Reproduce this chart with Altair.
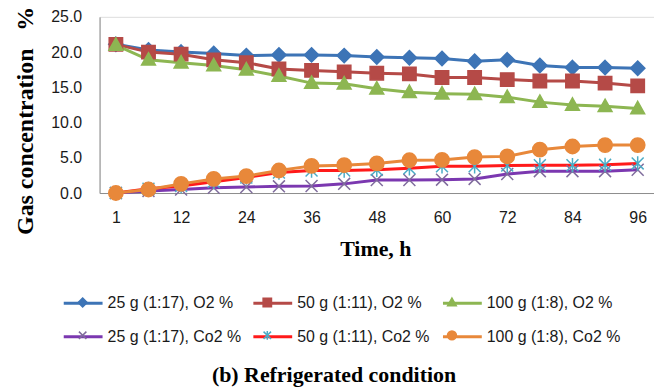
import altair as alt
import pandas as pd

times = [1, 6, 12, 18, 24, 30, 36, 42, 48, 54, 60, 66, 72, 78, 84, 90, 96]
x_tick_labels = [1, 12, 24, 36, 48, 60, 72, 84, 96]
y_ticks = [0, 5, 10, 15, 20, 25]

series_names = [
    "25 g (1:17), O2 %",
    "50 g (1:11), O2 %",
    "100 g (1:8), O2 %",
    "25 g (1:17), Co2 %",
    "50 g (1:11), Co2 %",
    "100 g (1:8), Co2 %",
]

o2_25 = [21.1, 20.3, 20.0, 19.8, 19.5, 19.6, 19.6, 19.5, 19.3, 19.2, 19.1, 18.7, 18.9, 18.1, 17.8, 17.8, 17.7]
o2_50 = [21.1, 20.0, 19.7, 18.9, 18.5, 17.6, 17.4, 17.2, 17.0, 16.9, 16.4, 16.4, 16.1, 15.9, 15.9, 15.6, 15.2]
o2_100 = [21.0, 18.9, 18.5, 18.1, 17.5, 16.6, 15.6, 15.5, 14.8, 14.3, 14.1, 14.0, 13.6, 12.9, 12.5, 12.3, 12.0]
co2_25 = [0.0, 0.3, 0.5, 0.75, 0.85, 0.95, 1.0, 1.3, 1.85, 1.85, 1.9, 2.0, 2.7, 3.1, 3.1, 3.1, 3.3]
co2_50 = [0.0, 0.6, 1.0, 1.6, 2.2, 2.9, 3.2, 3.2, 3.3, 3.5, 3.8, 3.8, 3.9, 3.95, 3.95, 4.0, 4.2]
co2_100 = [0.0, 0.5, 1.3, 2.0, 2.4, 3.2, 3.85, 3.95, 4.2, 4.65, 4.7, 5.1, 5.2, 6.15, 6.6, 6.8, 6.8]

all_values = [o2_25, o2_50, o2_100, co2_25, co2_50, co2_100]

line_colors = ["#3D74B6", "#B54A47", "#8DB652", "#7B38B0", "#FF1A1A", "#E8883A"]
marker_colors = ["#3D74B6", "#B54A47", "#8DB652", "#7F6C9C", "#4BACC6", "#E8883A"]
marker_shapes = [
    "M0,-0.3L0.3,0L0,0.3L-0.3,0Z",
    "M-0.28,-0.28H0.28V0.28H-0.28Z",
    "M0,-0.3L0.29,0.22L-0.29,0.22Z",
    "M-0.25,-0.25L0.25,0.25M-0.25,0.25L0.25,-0.25",
    "M-0.25,-0.25L0.25,0.25M-0.25,0.25L0.25,-0.25M0,-0.3L0,0.3",
    "M-0.3,0A0.3,0.3,0,1,0,0.3,0A0.3,0.3,0,1,0,-0.3,0Z",
]

# marker legend keys: distinct keys so the marker legend stays separate from the line legend
marker_keys = ["m" + str(i) for i in range(len(series_names))]

rows = []
for name, mkey, vals in zip(series_names, marker_keys, all_values):
    for t, v in zip(times, vals):
        rows.append({"time": t, "value": v, "series": name, "marker": mkey})
df = pd.DataFrame(rows)

FONT = "Liberation Sans"
SERIF = "Liberation Serif"
TEXT = "#1a1a1a"

common_legend = dict(
    title=None,
    orient="none",
    direction="horizontal",
    legendX=-33,
    legendY=271,
    columns=3,
    symbolSize=900,
    gridAlign="all",
    labelFont=FONT,
    labelFontSize=16,
    labelOffset=8,
    rowPadding=9,
    padding=0,
    labelLimit=400,
)

line_legend = alt.Legend(
    symbolType="M-1.3,0H1.3",
    symbolStrokeWidth=3,
    labelColor=TEXT,
    columnPadding=5.5,
    **common_legend,
)
marker_legend = alt.Legend(
    symbolStrokeWidth=1.5,
    labelExpr="''",
    columnPadding=145.5,
    **common_legend,
)

x_enc = alt.X(
    "time:O",
    scale=alt.Scale(type="point", padding=0.5),
    axis=alt.Axis(
        values=x_tick_labels,
        labelAngle=0,
        ticks=False,
        grid=False,
        domainColor="#8C8C8C",
        labelFont=FONT,
        labelFontSize=16,
        labelColor=TEXT,
        labelPadding=17,
        title="Time, h",
        titleFont=SERIF,
        titleFontSize=22,
        titleFontWeight="bold",
        titleColor="black",
        titleX=277,
        titleY=63,
        titleBaseline="alphabetic",
    ),
)
y_enc = alt.Y(
    "value:Q",
    scale=alt.Scale(domain=[0, 25], nice=False),
    axis=alt.Axis(
        values=y_ticks,
        format=".1f",
        ticks=False,
        grid=False,
        domainColor="#8C8C8C",
        labelFont=FONT,
        labelFontSize=16,
        labelColor=TEXT,
        labelPadding=18,
        title="Gas concentration \u00a0\u00a0%",
        titleFont=SERIF,
        titleFontSize=24,
        titleFontWeight="bold",
        titleColor="black",
        titleAngle=270,
        titleX=-67,
        titleY=104,
        titleBaseline="alphabetic",
        titleAlign="center",
    ),
)

lines = alt.Chart(df).mark_line(strokeWidth=3).encode(
    x=x_enc,
    y=y_enc,
    color=alt.Color(
        "series:N",
        scale=alt.Scale(domain=series_names, range=line_colors),
        legend=line_legend,
    ),
    detail="series:N",
)

points = alt.Chart(df).mark_point(filled=True, size=2300, opacity=1).encode(
    x=x_enc,
    y=y_enc,
    fill=alt.Fill(
        "marker:N",
        scale=alt.Scale(domain=marker_keys, range=marker_colors),
        legend=marker_legend,
    ),
    stroke=alt.Stroke(
        "marker:N",
        scale=alt.Scale(domain=marker_keys, range=marker_colors),
        legend=marker_legend,
    ),
    shape=alt.Shape(
        "marker:N",
        scale=alt.Scale(domain=marker_keys, range=marker_shapes),
        legend=marker_legend,
    ),
    strokeWidth=alt.value(1.5),
)

chart = (
    alt.layer(lines, points)
    .properties(
        width=557,
        height=177,
        autosize=alt.AutoSizeParams(type="none"),
        padding={"left": 92, "top": 8, "right": 0, "bottom": 196},
        title=alt.TitleParams(
            "(b)  Refrigerated  condition",
            orient="bottom",
            font=SERIF,
            fontSize=22,
            fontWeight="bold",
            color="black",
            anchor="middle",
            dx=-43,
            offset=20,
        ),
    )
    .configure_view(stroke=None)
    .configure(background="white")
)

chart.save("out.html", embed_options={"renderer": "svg", "actions": False})
